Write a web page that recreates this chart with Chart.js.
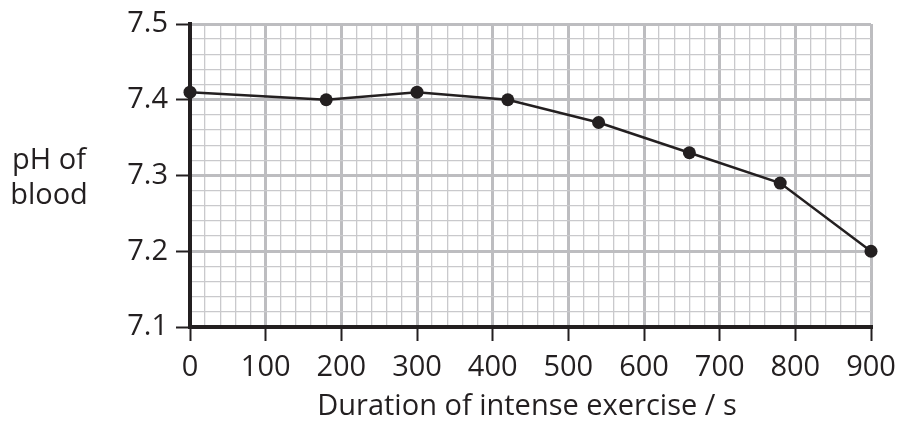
<!DOCTYPE html>
<html>
<head>
<meta charset="utf-8">
<script src="https://cdn.jsdelivr.net/npm/chart.js@4"></script>
<style>
  html, body { margin: 0; padding: 0; background: #fff; }
  #wrap { width: 897px; height: 427px; position: relative; }
</style>
</head>
<body>
<div id="wrap"><canvas id="chart" width="897" height="427"></canvas></div>
<script>
const times = [0, 180, 300, 420, 540, 660, 780, 900];
const phValues = [7.41, 7.40, 7.41, 7.40, 7.37, 7.33, 7.29, 7.20];
const xTicks = [0, 100, 200, 300, 400, 500, 600, 700, 800, 900];
const yTicks = [7.1, 7.2, 7.3, 7.4, 7.5];

const ink = "#231f20";
const minorGrid = "#c9c9cc";
const majorGrid = "#bdbdc0";
const font = "'Open Sans', sans-serif";

const isMajorX = (v) => xTicks.includes(Math.round(v));
const isMajorY = (v) => yTicks.some((t) => Math.abs(t - v) < 1e-6);

const titles = {
  id: "titles",
  afterDraw(c) {
    const ctx = c.ctx;
    ctx.save();
    ctx.fillStyle = ink;
    ctx.font = "29px " + font;
    ctx.textAlign = "center";
    ctx.textBaseline = "alphabetic";
    ctx.fillText("pH of", 49, 169);
    ctx.fillText("blood", 49, 204);
    ctx.fillText("Duration of intense exercise / s", 527, 415);
    ctx.restore();
  },
};

new Chart(document.getElementById("chart"), {
  type: "line",
  data: {
    datasets: [
      {
        data: times.map((t, i) => ({ x: t, y: phValues[i] })),
        borderColor: ink,
        borderWidth: 2.5,
        backgroundColor: ink,
        pointRadius: 6.5,
        pointBorderWidth: 0,
        tension: 0,
        clip: false,
      },
    ],
  },
  options: {
    responsive: false,
    animation: false,
    layout: { padding: { top: 24, right: 26, left: 0, bottom: 0 } },
    plugins: { legend: { display: false }, tooltip: { enabled: false } },
    scales: {
      x: {
        type: "linear",
        min: 0,
        max: 900,
        afterFit: (s) => {
          s.height = 100;
          s.paddingLeft = 0;
          s.paddingRight = 0;
        },
        ticks: {
          stepSize: 20,
          autoSkip: false,
          maxRotation: 0,
          padding: 9,
          color: ink,
          font: { family: font, size: 29 },
          callback: (v) => (isMajorX(v) ? String(Math.round(v)) : ""),
        },
        grid: {
          color: (c) => (isMajorX(c.tick.value) ? majorGrid : minorGrid),
          lineWidth: (c) => (isMajorX(c.tick.value) ? 3 : 1.3),
          tickLength: 14,
          tickColor: (c) => (isMajorX(c.tick.value) ? ink : "rgba(0,0,0,0)"),
          tickWidth: 2,
        },
        border: { color: ink, width: 4 },
      },
      y: {
        min: 7.1,
        max: 7.5,
        afterFit: (s) => {
          s.width = 190;
          s.paddingTop = 0;
          s.paddingBottom = 0;
        },
        ticks: {
          stepSize: 0.02,
          autoSkip: false,
          padding: 8,
          color: ink,
          font: { family: font, size: 29 },
          callback: (v) => (isMajorY(v) ? v.toFixed(1) : ""),
        },
        grid: {
          color: (c) => (isMajorY(c.tick.value) ? majorGrid : minorGrid),
          lineWidth: (c) => (isMajorY(c.tick.value) ? 3 : 1.3),
          tickLength: 14,
          tickColor: (c) => (isMajorY(c.tick.value) ? ink : "rgba(0,0,0,0)"),
          tickWidth: 2,
        },
        border: { color: ink, width: 4 },
      },
    },
  },
  plugins: [titles],
});
</script>
</body>
</html>
